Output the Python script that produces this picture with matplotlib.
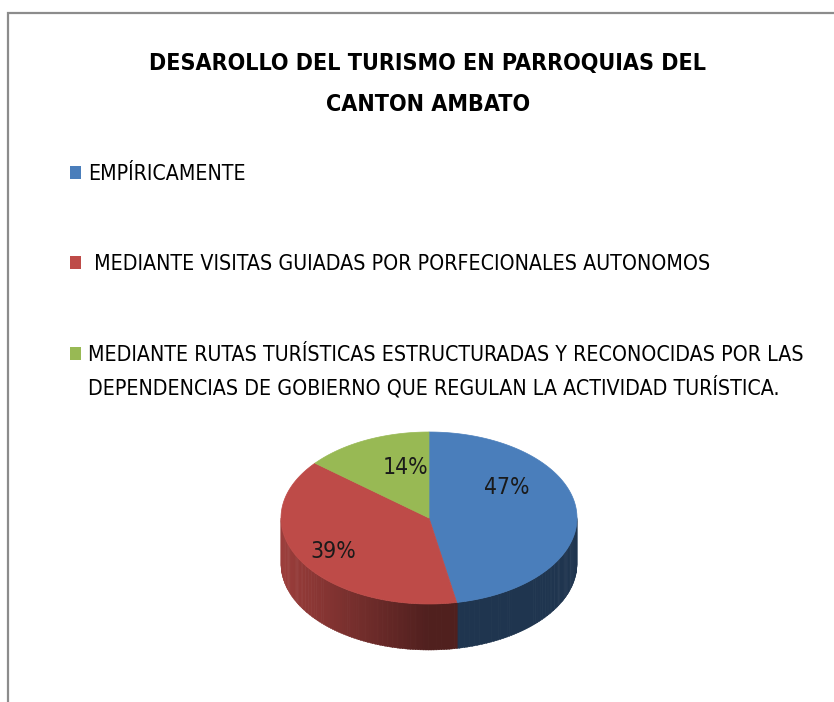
import numpy as np
import matplotlib
matplotlib.use("Agg")
import matplotlib.pyplot as plt
from matplotlib.patches import Polygon, Rectangle
from matplotlib.colors import to_rgb

plt.rcParams['font.family'] = ['Liberation Sans Narrow', 'DejaVu Sans']
plt.rcParams['font.stretch'] = 'condensed'

# ---------------------------------------------------------------------------
# data
# ---------------------------------------------------------------------------
title = "DESAROLLO DEL TURISMO EN PARROQUIAS DEL\nCANTON AMBATO"
categories = [
    "EMPÍRICAMENTE",
    " MEDIANTE VISITAS GUIADAS POR PORFECIONALES AUTONOMOS",
    "MEDIANTE RUTAS TURÍSTICAS ESTRUCTURADAS Y RECONOCIDAS POR LAS\n"
    "DEPENDENCIAS DE GOBIERNO QUE REGULAN LA ACTIVIDAD TURÍSTICA.",
]
values = [47, 39, 14]
colors = ["#4a7ebb", "#be4b48", "#98b954"]

# ---------------------------------------------------------------------------
# layout (pixel space, y down)
# ---------------------------------------------------------------------------
W, H = 834, 702
CX, CY = 429, 518        # centre of top ellipse
RX, RY = 148, 86         # radii of top ellipse
DEPTH = 46               # pie thickness
legend_y = [173, 263, 354]
label_off = [(78, -30), (-96, 33), (-23, -50)]   # label offsets from centre

fig = plt.figure(figsize=(W / 100, H / 100), dpi=100)
ax = fig.add_axes([0, 0, 1, 1])
ax.set_xlim(0, W)
ax.set_ylim(H, 0)
ax.axis('off')

# chart frame (cropped on right/bottom)
ax.plot([8, 8, W + 5], [H + 5, 13, 13], color='#8c8c8c', lw=1.6,
        solid_joinstyle='miter')

ax.text(428, 84, title, ha='center', va='center', fontsize=16.7,
        fontweight='bold', linespacing=1.95)

# legend
for y, lab, col in zip(legend_y, categories, colors):
    ax.add_patch(Rectangle((70, y - 7), 11, 13, color=col, lw=0))
    ax.text(88, y - 9, lab, ha='left', va='top', fontsize=15.3,
            linespacing=1.57)


def ell(t, dy=0.0):
    return CX + RX * np.cos(t), CY - RY * np.sin(t) + dy


# slice angles: start at 12 o'clock, clockwise
total = sum(values)
starts, ends = [], []
a = 90.0
for v in values:
    starts.append(a)
    a -= 360.0 * v / total
    ends.append(a)

# sides (front half only), shaded by angle
for s, e, col in zip(starts, ends, colors):
    lo, hi = np.radians(e), np.radians(s)
    base = np.array(to_rgb(col))
    for k in range(-1, 2):
        l = max(lo + 2 * np.pi * k, np.pi)
        h = min(hi + 2 * np.pi * k, 2 * np.pi)
        if h <= l:
            continue
        ts = np.linspace(l, h, max(2, int(np.degrees(h - l)) + 1))
        for t0, t1 in zip(ts[:-1], ts[1:]):
            f = 0.42 + 0.4 * max(0.0, -np.cos((t0 + t1) / 2))
            tt = np.array([t0, t1 + 0.004])
            x, y = ell(tt)
            xb, yb = ell(tt[::-1], DEPTH)
            poly = np.column_stack([np.r_[x, xb], np.r_[y, yb]])
            ax.add_patch(Polygon(poly, closed=True, color=base * f, lw=0.3))

# top faces
for s, e, col in zip(starts, ends, colors):
    ts = np.linspace(np.radians(s), np.radians(e), 200)
    x, y = ell(ts)
    poly = np.column_stack([np.r_[CX, x], np.r_[CY, y]])
    ax.add_patch(Polygon(poly, closed=True, facecolor=col, edgecolor=col,
                         lw=0.5))

# data labels
for v, (dx, dy) in zip(values, label_off):
    ax.text(CX + dx, CY + dy, f"{v}%", ha='center', va='center',
            fontsize=16.5, color='#1a1a1a')

fig.savefig("out.png", dpi=100)
